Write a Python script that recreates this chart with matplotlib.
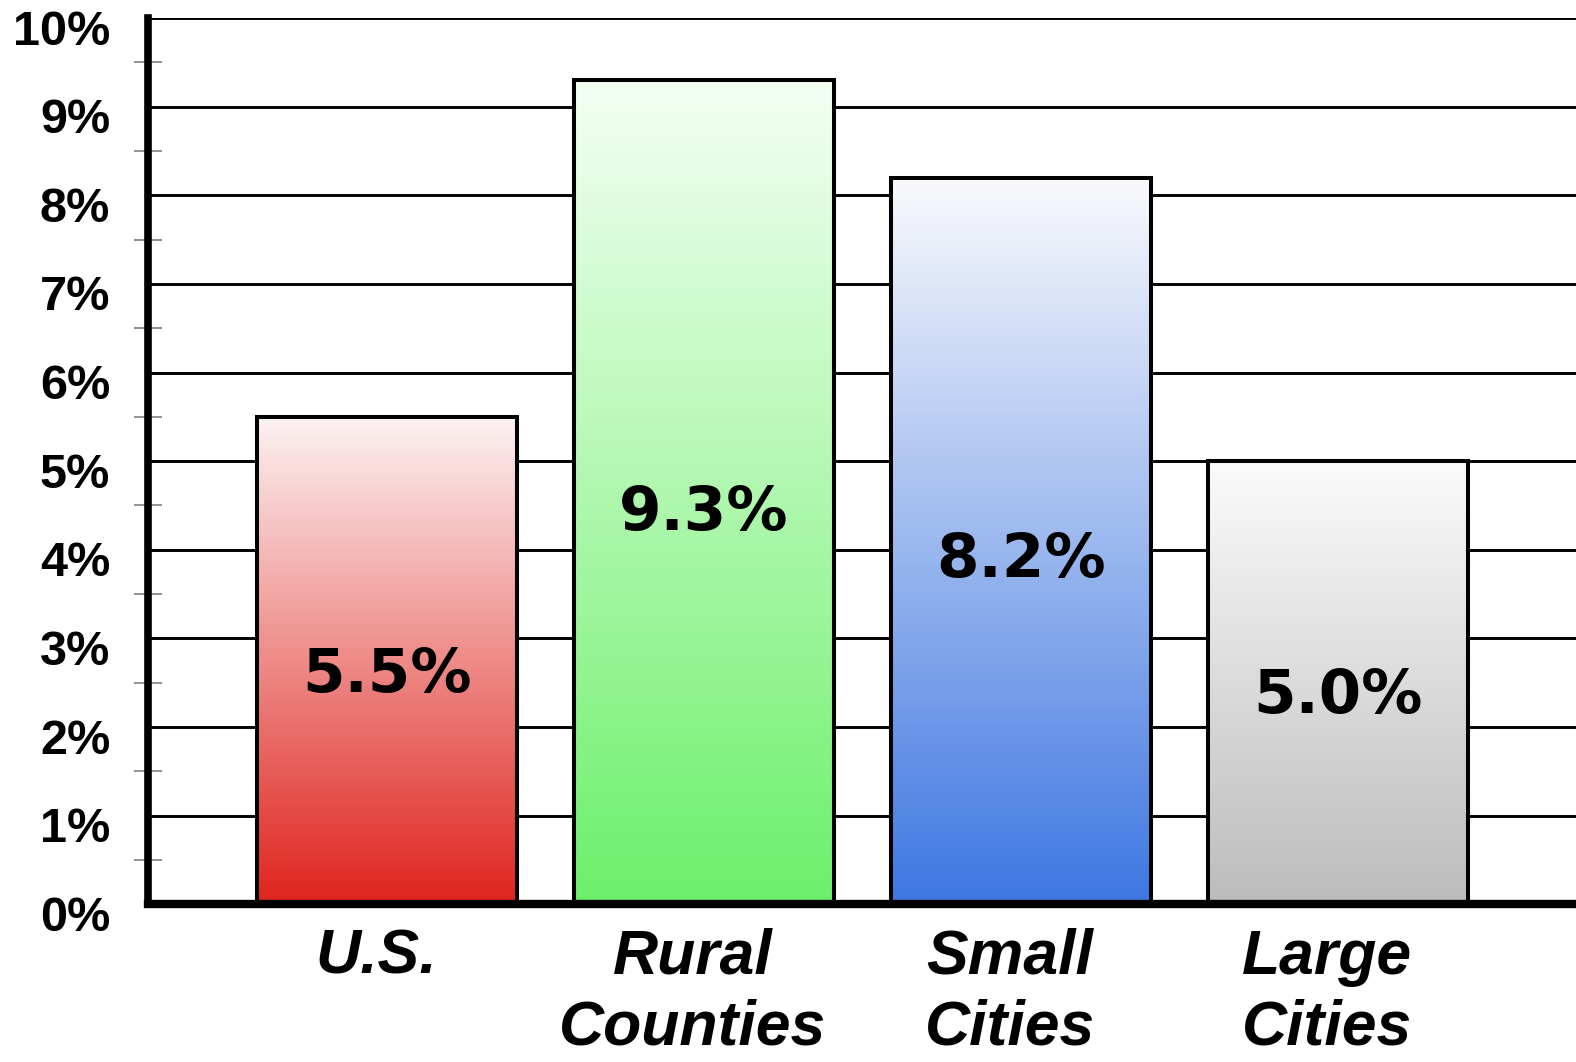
import numpy as np
import matplotlib
matplotlib.use("Agg")
import matplotlib.pyplot as plt
import matplotlib.transforms as mtransforms
from matplotlib.colors import LinearSegmentedColormap

categories = ["U.S.", "Rural\nCounties", "Small\nCities", "Large\nCities"]
values = [5.5, 9.3, 8.2, 5.0]
value_labels = ["5.5%", "9.3%", "8.2%", "5.0%"]
top_colors = ["#fcf2f2", "#f4fff4", "#fafafc", "#fbfbfb"]
bottom_colors = ["#e0241e", "#6cf06a", "#3e77e2", "#bcbcbc"]
ytick_labels = ["0%", "1%", "2%", "3%", "4%", "5%", "6%", "7%", "8%", "9%", "10%"]

fig = plt.figure(figsize=(15.76, 10.62), dpi=100)
ax = fig.add_axes([0.0937, 0.1485, 0.9063, 0.8345])

x = np.arange(len(categories))
width = 0.818

ax.set_axisbelow(True)
ax.yaxis.grid(True, color="black", linewidth=2.1, zorder=0.5)
ax.xaxis.grid(False)

text_offset = mtransforms.ScaledTranslation(0, -5 / 100, fig.dpi_scale_trans)
grad = np.linspace(0, 1, 256).reshape(-1, 1)
bars = ax.bar(x, values, width=width, facecolor="none", edgecolor="black",
              linewidth=2.9, zorder=4)
for xi, v, tc, bc, lab in zip(x, values, top_colors, bottom_colors, value_labels):
    cmap = LinearSegmentedColormap.from_list("g", [bc, tc])
    ax.imshow(grad, cmap=cmap, origin="lower", aspect="auto",
              extent=[xi - width / 2, xi + width / 2, 0, v], zorder=3,
              interpolation="bilinear")
    ax.text(xi, v * 0.48, lab, ha="center", va="center",
            fontsize=44, fontweight="bold", family="DejaVu Sans", zorder=5,
            transform=ax.transData + text_offset)

ax.set_xlim(-0.755, 3.751)
ax.set_ylim(0, 10.0)

for s in ["top", "right"]:
    ax.spines[s].set_visible(False)
ax.spines["left"].set_linewidth(5.5)
ax.spines["bottom"].set_linewidth(6)
ax.spines["left"].set_zorder(6)
ax.spines["bottom"].set_zorder(6)
ax.spines["left"].set_bounds(0, 10)

ax.set_yticks(np.arange(0, 11, 1))
ax.set_yticklabels(ytick_labels, fontsize=35, fontweight="bold",
                   family="Liberation Sans")
ax.set_yticks(np.arange(0.5, 10, 1), minor=True)
ax.tick_params(axis="y", which="major", length=0, pad=27)
ax.tick_params(axis="y", which="minor", length=20, width=1.3,
               direction="inout", color="#8a8a8a")
yoff = mtransforms.ScaledTranslation(0, -9 / 100, fig.dpi_scale_trans)
for t in ax.get_yticklabels():
    t.set_transform(t.get_transform() + yoff)

ax.set_xticks(x)
ax.set_xticklabels(categories, fontsize=45, fontweight="bold", style="italic",
                   family="Liberation Sans", linespacing=1.25)
ax.tick_params(axis="x", which="major", length=0, pad=17)
xoff = mtransforms.ScaledTranslation(-11 / 100, 0, fig.dpi_scale_trans)
for t in ax.get_xticklabels():
    t.set_transform(t.get_transform() + xoff)

fig.savefig("out.png", dpi=100, facecolor="white")
